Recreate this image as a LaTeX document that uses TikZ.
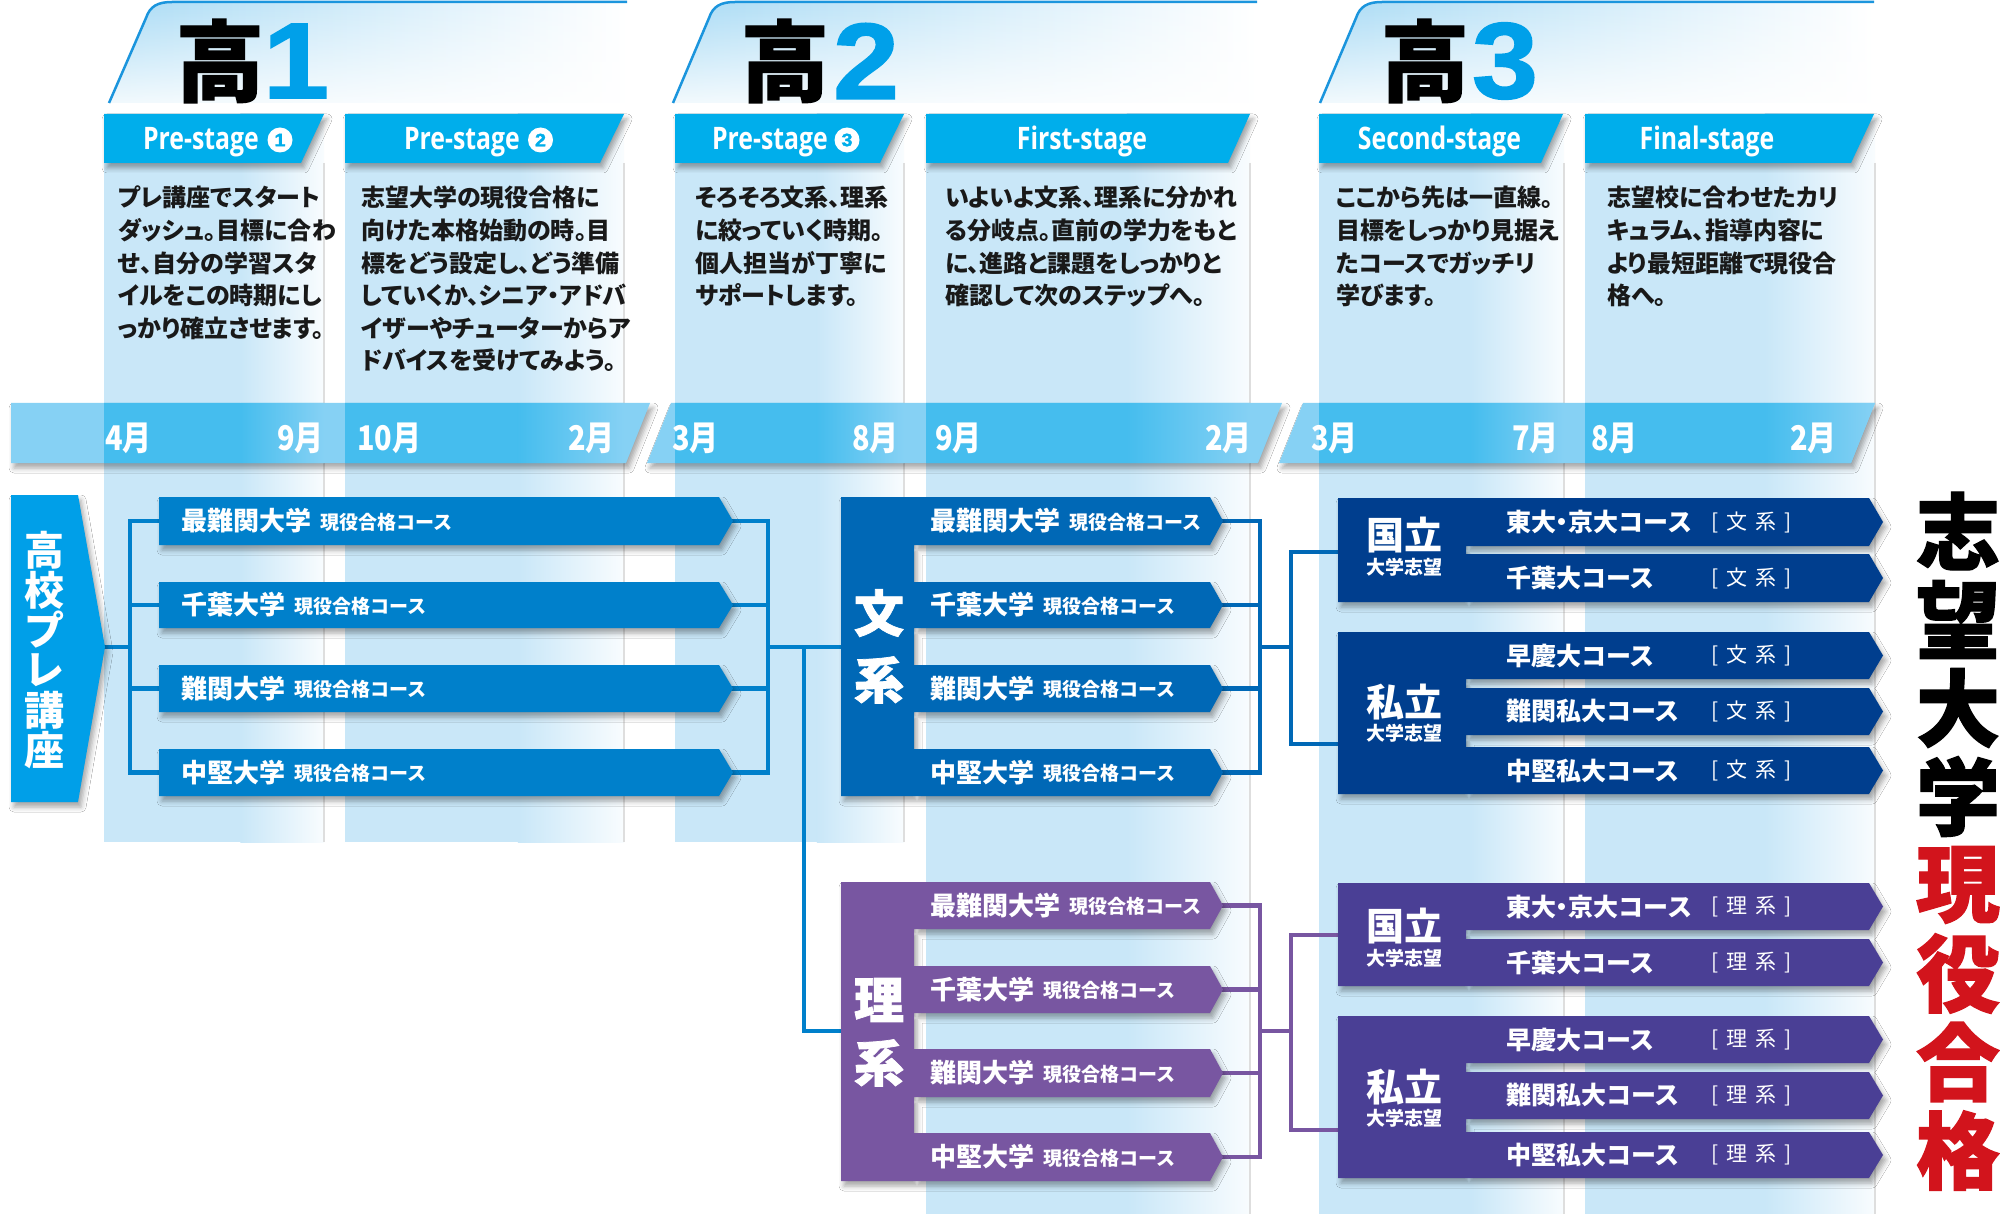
\documentclass[tikz,border=0pt]{standalone}
\usepackage{fontspec}
\setmainfont{Noto Sans CJK JP}
\newfontfamily\jpp{Noto Sans CJK JP}[RawFeature=+palt]
\newfontfamily\jpc{Noto Sans CJK JP}[FakeStretch=0.85]
\newfontfamily\jph{Noto Sans CJK JP}[BoldFeatures={FakeBold=1.5}]
\newfontfamily\latn{Open Sans}[FakeStretch=0.8]
\newfontfamily\dig{Liberation Sans}[FakeStretch=1.1,BoldFeatures={FakeBold=1.5}]
\usetikzlibrary{shadows.blur,fadings}
\newcommand\fs[1]{\fontsize{#1}{#1}\selectfont}
\definecolor{hdr}{HTML}{00AEEB}
\definecolor{bandc}{HTML}{C9E7F8}
\definecolor{mbar}{HTML}{45BDEE}
\definecolor{mbarl}{HTML}{86D1F4}
\definecolor{hline}{HTML}{1B95DD}
\definecolor{hgrad}{HTML}{A9DBF5}
\definecolor{prec}{HTML}{009FE8}
\definecolor{cbone}{HTML}{0080CB}
\definecolor{bun}{HTML}{0068B6}
\definecolor{bunk}{HTML}{003E8E}
\definecolor{ri}{HTML}{7856A1}
\definecolor{rik}{HTML}{4A3F95}
\definecolor{redc}{HTML}{D2141C}
\definecolor{digc}{HTML}{00A0E9}
\tikzfading[name=fadeup, top color=transparent!100, bottom color=transparent!15]
\newcommand\crs[1]{{\fs{26}\bfseries #1}\hspace{9pt}\raisebox{1.5pt}{\fs{19}\bfseries 現役合格コース}}
\newcommand\bandbox[4]{%
  \fill[bandc] (#1,#3) rectangle ({#1+0.62*(#2-#1)},#4);
  \shade[left color=bandc, right color=bandc!12] ({#1+0.62*(#2-#1)},#3) rectangle (#2,#4);}
\begin{document}
\begin{tikzpicture}[x=1pt,y=-1pt,
  shd/.style={blur shadow={shadow xshift=3pt,shadow yshift=-5pt,shadow blur radius=5pt,shadow opacity=35}},
  conn/.style={line width=4.5pt,line cap=rect,line join=miter},
  stg/.style={font=\latn\bfseries\fs{31},text=white,inner sep=0pt},
  desc/.style={font=\jpp\bfseries\fs{24},anchor=base west,inner sep=0pt,text=black!90},
  mon/.style={font=\jpc\bfseries\fs{34},text=white,inner sep=0pt},
  cnum/.style={circle,fill=white,text=hdr,minimum size=25pt,inner sep=0pt,font=\dig\bfseries\fs{18}},
  wt/.style={text=white,inner sep=0pt},
  uni/.style={text=white,inner sep=0pt,anchor=west,font=\bfseries\fs{25}},
  brk/.style={text=white,inner sep=0pt,anchor=west,font=\fs{21}},
  big/.style={inner sep=0pt,font=\jph\bfseries\fs{88}},
  bigd/.style={inner sep=0pt,text=digc,font=\dig\bfseries\fs{108}},
]
\fill[white] (0,0) rectangle (2000,1214);
\useasboundingbox (0,0) rectangle (2000,1214);

% ---------- grade headers ----------
\foreach \a/\b/\c/\e in {109/146/172/627, 673/709/735/1257, 1320/1356/1382/1874}{
  \shade[left color=hgrad, middle color=hgrad!35, right color=white]
    (\a,103) -- (\b,18) .. controls ({\b+4},6) and ({\b+12},2) .. (\c,2) -- (\e,2) -- (\e,103) -- cycle;
  \fill[white, path fading=fadeup]
    (\a,103) -- (\b,18) .. controls ({\b+4},6) and ({\b+12},2) .. (\c,2) -- (\e,2) -- (\e,103) -- cycle;
  \draw[hline, line width=2.5pt] (\a,103) -- (\b,18) .. controls ({\b+4},6) and ({\b+12},2) .. (\c,2) -- (\e,2);
}
\node[big] (g1) at (220,61) {高};
\node[bigd] (g1n) at (296,61) {1};
\node[big] (g2) at (785,61) {高};
\node[bigd] (g2n) at (866,61) {2};
\node[big] (g3) at (1425,61) {高};
\node[bigd] (g3n) at (1505,61) {3};

% ---------- column bands ----------
\bandbox{104}{324}{114}{842}
\bandbox{345}{624}{114}{842}
\bandbox{675}{904}{114}{842}
\bandbox{926}{1250}{114}{1214}
\bandbox{1319}{1564}{114}{1214}
\bandbox{1585}{1875}{114}{1214}
\foreach \x/\yb in {324/842,624/842,904/842,1250/1214,1564/1214,1875/1214}
  \draw[black!13, line width=1.2pt] (\x,163) -- (\x,\yb);

% ---------- stage headers ----------
\foreach \l/\r/\s in {104/324/301, 345/624/600, 675/904/880, 926/1250/1228, 1319/1563/1541, 1585/1874/1851}
  \fill[hdr, shd] (\l,114) -- (\r,114) -- (\s,163) -- (\l,163) -- cycle;
\node[stg, anchor=base east] (s1) at (259,150) {Pre-stage};
\node[cnum] (c1) at (280,140) {1};
\node[stg, anchor=base east] (s2) at (520,150) {Pre-stage};
\node[cnum] (c2) at (540.5,140) {2};
\node[stg, anchor=base east] (s3) at (828,150) {Pre-stage};
\node[cnum] (c3) at (847,140) {3};
\node[stg, anchor=base] (s4) at (1082,150) {First-stage};
\node[stg, anchor=base] (s5) at (1439.5,150) {Second-stage};
\node[stg, anchor=base] (s6) at (1707,150) {Final-stage};

% ---------- descriptions ----------
\foreach \l [count=\i] in {プレ講座でスタート,ダッシュ。目標に合わ,せ、自分の学習スタ,イルをこの時期にし,っかり確立させます。}
  \node[desc] (da\i) at (118,{207+32.6*(\i-1)}) {\l};
\foreach \l [count=\i] in {志望大学の現役合格に,向けた本格始動の時。目,標をどう設定し、どう準備,していくか、シニア・アドバ,イザーやチューターからア,ドバイスを受けてみよう。}
  \node[desc] (db\i) at (361,{207+32.6*(\i-1)}) {\l};
\foreach \l [count=\i] in {そろそろ文系、理系,に絞っていく時期。,個人担当が丁寧に,サポートします。}
  \node[desc] (dc\i) at (695,{207+32.6*(\i-1)}) {\l};
\foreach \l [count=\i] in {いよいよ文系、理系に分かれ,る分岐点。直前の学力をもと,に、進路と課題をしっかりと,確認して次のステップへ。}
  \node[desc] (dd\i) at (945,{207+32.6*(\i-1)}) {\l};
\foreach \l [count=\i] in {ここから先は一直線。,目標をしっかり見据え,たコースでガッチリ,学びます。}
  \node[desc] (de\i) at (1336,{207+32.6*(\i-1)}) {\l};
\foreach \l [count=\i] in {志望校に合わせたカリ,キュラム、指導内容に,より最短距離で現役合,格へ。}
  \node[desc] (df\i) at (1607,{207+32.6*(\i-1)}) {\l};

% ---------- month bar ----------
\fill[mbarl, shd] (11,403) -- (650,403) -- (626,463) -- (11,463) -- cycle;
\fill[mbarl, shd] (671,403) -- (1282,403) -- (1258,463) -- (647,463) -- cycle;
\fill[mbarl, shd] (1303,403) -- (1875,403) -- (1851,463) -- (1279,463) -- cycle;
\begin{scope}
  \clip (11,403) -- (650,403) -- (626,463) -- (11,463) -- cycle
        (671,403) -- (1282,403) -- (1258,463) -- (647,463) -- cycle
        (1303,403) -- (1875,403) -- (1851,463) -- (1279,463) -- cycle;
  \foreach \l/\r in {104/324,345/624,675/904,926/1250,1319/1564,1585/1875}{
    \fill[mbar] (\l,400) rectangle ({\l+0.62*(\r-\l)},466);
    \shade[left color=mbar, right color=mbarl] ({\l+0.62*(\r-\l)},400) rectangle (\r,466);
  }
\end{scope}
\node[mon, anchor=base west] (m1) at (105,450) {4月};
\node[mon, anchor=base east] (m2) at (324,450) {9月};
\node[mon, anchor=base west] (m3) at (357,450) {10月};
\node[mon, anchor=base east] (m4) at (615,450) {2月};
\node[mon, anchor=base west] (m5) at (672,450) {3月};
\node[mon, anchor=base east] (m6) at (899,450) {8月};
\node[mon, anchor=base west] (m7) at (935,450) {9月};
\node[mon, anchor=base east] (m8) at (1252,450) {2月};
\node[mon, anchor=base west] (m9) at (1311,450) {3月};
\node[mon, anchor=base east] (m10) at (1559,450) {7月};
\node[mon, anchor=base west] (m11) at (1591,450) {8月};
\node[mon, anchor=base east] (m12) at (1837,450) {2月};

% ---------- coordinates ----------
\foreach \i/\t/\b in {1/497/545, 2/582/628, 3/665/712, 4/749/796}{
  \coordinate (h\i-w) at (159,{(\t+\b)/2});
  \coordinate (h\i-e) at (732,{(\t+\b)/2});
  \coordinate (b\i-e) at (1223,{(\t+\b)/2});
}
\foreach \i/\t/\b in {1/882/929, 2/966/1013, 3/1049/1097, 4/1133/1181}{
  \coordinate (r\i-e) at (1223,{(\t+\b)/2});
}
\coordinate (preTip) at (105,647);
\coordinate (jL) at (130,647);
\coordinate (jR) at (768,647);
\coordinate (jB) at (804,647);
\coordinate (bun-w) at (841,647);
\coordinate (ri-w) at (841,1031);
\coordinate (jR2) at (1260,647);
\coordinate (jR3) at (1291,647);
\coordinate (kb-w) at (1338,552);
\coordinate (sb-w) at (1338,744);
\coordinate (jR4) at (1260,1031);
\coordinate (jR5) at (1291,1031);
\coordinate (kr-w) at (1338,935);
\coordinate (sr-w) at (1338,1130);

% ---------- connectors ----------
\draw[conn, cbone] (preTip) -- (jL);
\draw[conn, cbone] (jL |- h1-w) -- (jL |- h4-w);
\foreach \i in {1,...,4} \draw[conn, cbone] (jL |- h\i-w) -- (h\i-w);
\foreach \i in {1,...,4} \draw[conn, cbone] (h\i-e) -- (jR |- h\i-e);
\draw[conn, cbone] (jR |- h1-e) -- (jR |- h4-e);
\draw[conn, cbone] (jR) -- (bun-w);
\draw[conn, cbone] (jB) |- (ri-w);
\foreach \i in {1,...,4} \draw[conn, bun] (b\i-e) -- (jR2 |- b\i-e);
\draw[conn, bun] (jR2 |- b1-e) -- (jR2 |- b4-e);
\draw[conn, bun] (jR2) -- (jR3);
\draw[conn, bun] (kb-w) -| (jR3) |- (sb-w);
\foreach \i in {1,...,4} \draw[conn, ri] (r\i-e) -- (jR4 |- r\i-e);
\draw[conn, ri] (jR4 |- r1-e) -- (jR4 |- r4-e);
\draw[conn, ri] (jR4) -- (jR5);
\draw[conn, ri] (kr-w) -| (jR5) |- (sr-w);

% ---------- boxes ----------
\fill[prec, shd] (11,495) -- (78,495) -- (105,647) -- (78,802) -- (11,802) -- cycle;
\foreach \t/\b in {497/545,582/628,665/712,749/796}
  \fill[cbone, shd] (159,\t) -- (719,\t) -- (733,{(\t+\b)/2}) -- (719,\b) -- (159,\b) -- cycle;
\fill[bun, shd] (841,497) -- (914,497) -- (914,796) -- (841,796) -- cycle
  \foreach \t/\b in {497/545,582/628,665/712,749/796}{ (841,\t) -- (1210,\t) -- (1223,{(\t+\b)/2}) -- (1210,\b) -- (841,\b) -- cycle };
\fill[ri, shd] (841,882) -- (914,882) -- (914,1181) -- (841,1181) -- cycle
  \foreach \t/\b in {882/929,966/1013,1049/1097,1133/1181}{ (841,\t) -- (1210,\t) -- (1223,{(\t+\b)/2}) -- (1210,\b) -- (841,\b) -- cycle };
\fill[bunk, shd] (1338,498) -- (1466,498) -- (1466,602) -- (1338,602) -- cycle
  \foreach \t/\b in {498/546,554/602}{ (1338,\t) -- (1869,\t) -- (1883,{(\t+\b)/2}) -- (1869,\b) -- (1338,\b) -- cycle };
\fill[bunk, shd] (1338,632) -- (1466,632) -- (1466,794) -- (1338,794) -- cycle
  \foreach \t/\b in {632/679,688/735,747/794}{ (1338,\t) -- (1869,\t) -- (1883,{(\t+\b)/2}) -- (1869,\b) -- (1338,\b) -- cycle };
\fill[rik, shd] (1338,883) -- (1466,883) -- (1466,986) -- (1338,986) -- cycle
  \foreach \t/\b in {883/930,939/986}{ (1338,\t) -- (1869,\t) -- (1883,{(\t+\b)/2}) -- (1869,\b) -- (1338,\b) -- cycle };
\fill[rik, shd] (1338,1016) -- (1466,1016) -- (1466,1178) -- (1338,1178) -- cycle
  \foreach \t/\b in {1016/1063,1072/1119,1132/1178}{ (1338,\t) -- (1869,\t) -- (1883,{(\t+\b)/2}) -- (1869,\b) -- (1338,\b) -- cycle };

% ---------- box texts ----------
\foreach \c [count=\i] in {高,校,プ,レ,講,座}
  \node[wt, font=\bfseries\fs{40}] (pk\i) at (44.5,{550+40*(\i-1)}) {\c};
\foreach \i/\n/\t/\b in {1/最難関大学/497/545, 2/千葉大学/582/628, 3/難関大学/665/712, 4/中堅大学/749/796}{
  \node[wt, anchor=west] (ht\i) at (181,{(\t+\b)/2}) {\crs{\n}};
  \node[wt, anchor=west] (bt\i) at (930,{(\t+\b)/2}) {\crs{\n}};
}
\foreach \i/\n/\t/\b in {1/最難関大学/882/929, 2/千葉大学/966/1013, 3/難関大学/1049/1097, 4/中堅大学/1133/1181}
  \node[wt, anchor=west] (rt\i) at (930,{(\t+\b)/2}) {\crs{\n}};
\node[wt, font=\jph\bfseries\fs{50}] (bun1) at (879,613) {文};
\node[wt, font=\jph\bfseries\fs{50}] (bun2) at (879,680) {系};
\node[wt, font=\jph\bfseries\fs{50}] (ri1) at (879,1000) {理};
\node[wt, font=\jph\bfseries\fs{50}] (ri2) at (879,1063) {系};

\node[wt, font=\bfseries\fs{38}] (kk1) at (1404,535) {国立};
\node[wt, font=\bfseries\fs{19}] (kk2) at (1404,567) {大学志望};
\node[wt, font=\bfseries\fs{38}] (ks1) at (1404,702) {私立};
\node[wt, font=\bfseries\fs{19}] (ks2) at (1404,733) {大学志望};
\node[wt, font=\bfseries\fs{38}] (rk1) at (1404,926) {国立};
\node[wt, font=\bfseries\fs{19}] (rk2) at (1404,958) {大学志望};
\node[wt, font=\bfseries\fs{38}] (rs1) at (1404,1087) {私立};
\node[wt, font=\bfseries\fs{19}] (rs2) at (1404,1118) {大学志望};

\foreach \i/\n/\y in {1/東大{\jpp ・}京大コース/522, 2/千葉大コース/578, 3/早慶大コース/655.5, 4/難関私大コース/711.5, 5/中堅私大コース/770.5}{
  \node[uni] (ub\i) at (1506,\y) {\n};
  \node[brk] (xb\i) at (1711,\y) {[\hspace{8pt}文\hspace{8pt}系\hspace{8pt}]};
}
\foreach \i/\n/\y in {1/東大{\jpp ・}京大コース/906.5, 2/千葉大コース/962.5, 3/早慶大コース/1039.5, 4/難関私大コース/1095.5, 5/中堅私大コース/1155}{
  \node[uni] (ur\i) at (1506,\y) {\n};
  \node[brk] (xr\i) at (1711,\y) {[\hspace{8pt}理\hspace{8pt}系\hspace{8pt}]};
}

% ---------- right title ----------
\foreach \c [count=\i] in {志,望,大,学}
  \node[inner sep=0pt, font=\jph\bfseries\fs{84}] (tt\i) at (1958,{531+88.5*(\i-1)}) {\c};
\foreach \c [count=\i] in {現,役,合,格}
  \node[inner sep=0pt, text=redc, font=\jph\bfseries\fs{84}] (tr\i) at (1958,{531+88.5*(\i+3)}) {\c};
\end{tikzpicture}
\end{document}
